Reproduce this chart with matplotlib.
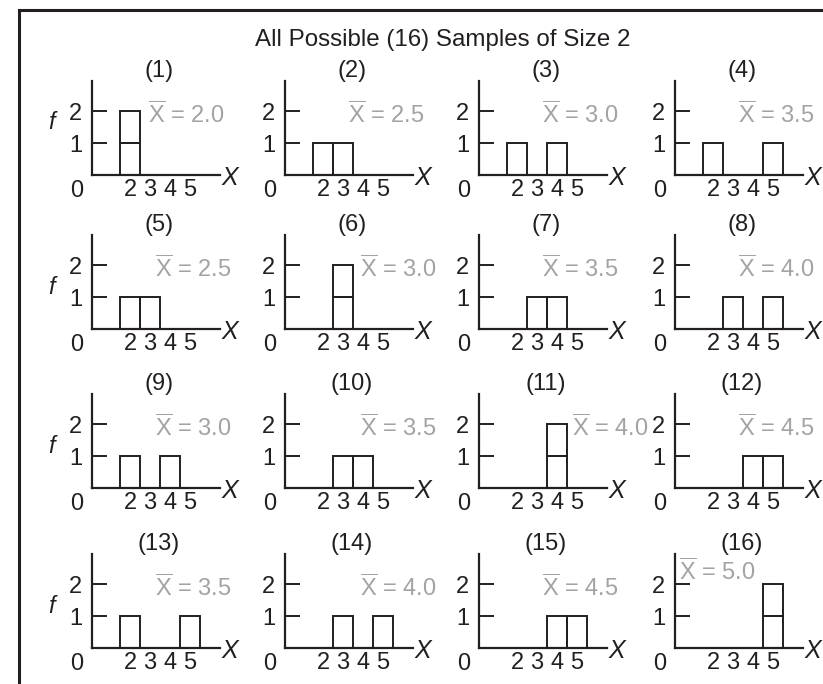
import matplotlib
matplotlib.use('Agg')
import matplotlib.pyplot as plt
from matplotlib.lines import Line2D

plt.rcParams['font.family'] = ['Liberation Sans', 'DejaVu Sans']
plt.rcParams['mathtext.fontset'] = 'custom'
plt.rcParams['mathtext.rm'] = 'Liberation Sans'
plt.rcParams['mathtext.it'] = 'Liberation Sans:italic'

# population values and the 16 samples of size 2 (first and second draw)
population = [2, 3, 4, 5]
first_obs = [2, 2, 2, 2, 3, 3, 3, 3, 4, 4, 4, 4, 5, 5, 5, 5]
second_obs = [2, 3, 4, 5, 2, 3, 4, 5, 2, 3, 4, 5, 2, 3, 4, 5]
sample_means = [2.0, 2.5, 3.0, 3.5, 2.5, 3.0, 3.5, 4.0,
                3.0, 3.5, 4.0, 4.5, 3.5, 4.0, 4.5, 5.0]
title = 'All Possible (16) Samples of Size 2'

INK = '#231f20'
GREY = '#a3a3a3'
FS = 17

W, H = 823, 684
fig = plt.figure(figsize=(W / 100, H / 100), dpi=100)

# layout in pixels
col_left = [92, 285, 479, 675]
row_base = [175, 329, 488, 648]
ax_w, ax_h = 128, 94
x0, x1 = 0.1, 6.5

# where the mean label sits (x in data units, y in data units)
mean_pos = {0: (2.9, 1.9), 5: (3.85, 1.9), 9: (3.85, 1.9), 13: (3.85, 1.9),
            10: (4.75, 1.9), 15: (0.3, 2.4)}

for i in range(16):
    r, c = divmod(i, 4)
    ax = fig.add_axes([col_left[c] / W, (H - row_base[r]) / H, ax_w / W, ax_h / H])
    ax.set_xlim(x0, x1)
    ax.set_ylim(0, 2.94)
    for s in ['top', 'right']:
        ax.spines[s].set_visible(False)
    for s in ['left', 'bottom']:
        ax.spines[s].set_linewidth(1.6)
        ax.spines[s].set_color(INK)

    # one unit box per observation, stacked when values repeat
    counts = {v: 0 for v in population}
    for v in (first_obs[i], second_obs[i]):
        ax.bar(v, 1, width=1.0, bottom=counts[v], fill=False,
               edgecolor=INK, linewidth=1.4, clip_on=False)
        counts[v] += 1

    ax.set_yticks([1, 2])
    ax.set_yticklabels(['1', '2'])
    ax.tick_params(axis='y', direction='in', length=11, width=1.4,
                   color=INK, pad=7, labelsize=FS, labelcolor=INK)
    ax.set_xticks(population)
    ax.set_xticklabels([str(v) for v in population])
    ax.tick_params(axis='x', length=0, pad=3, labelsize=FS, labelcolor=INK)

    ax.text(-0.65, -0.5, '0', fontsize=FS, color=INK, ha='center', va='center')
    ax.text(6.55, -0.1, 'X', fontsize=18, color=INK, style='italic',
            ha='left', va='center', clip_on=False)
    ax.text(3.45, 3.25, f'({i + 1})', fontsize=FS, color=INK,
            ha='center', va='center', clip_on=False)

    mx, my = mean_pos.get(i, (3.25, 1.9))
    ax.text(mx, my, r'$\overline{\mathrm{X}}$' + f' = {sample_means[i]:.1f}',
            fontsize=FS, color=GREY, ha='left', va='center', clip_on=False)

    if c == 0:
        fy = 1.65 if r == 0 else 1.3
        ax.text(-1.9, fy, 'f', fontsize=FS, color=INK, style='italic',
                ha='center', va='center')

fig.text(443 / W, 1 - 40 / H, title, fontsize=17.4, color=INK, ha='center', va='center')

# frame around the figure panel
fig.add_artist(Line2D([19 / W, 19 / W], [0, 1 - 10 / H], color=INK, lw=2.2))
fig.add_artist(Line2D([19 / W, 1], [1 - 10 / H, 1 - 10 / H], color=INK, lw=2.2))

fig.savefig('out.png', dpi=100)
